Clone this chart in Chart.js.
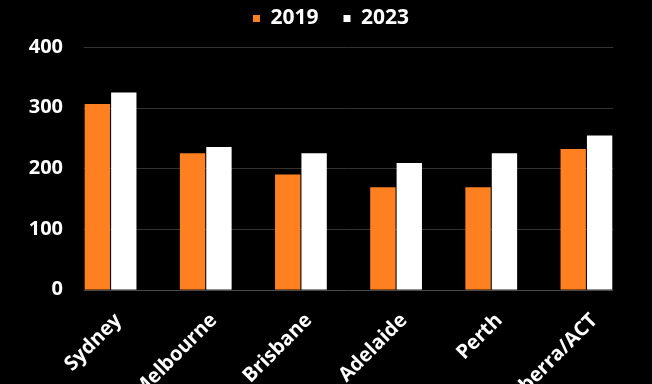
<!DOCTYPE html>
<html lang="en">
  <head>
    <meta charset="UTF-8" />
    <title>2019 vs 2023</title>
    <script src="https://cdn.jsdelivr.net/npm/chart.js"></script>
    <style>
      html,
      body {
        margin: 0;
        padding: 0;
        background: #000;
        overflow: hidden;
      }
      .chart-container {
        width: 652px;
        height: 443px;
      }
    </style>
  </head>
  <body>
    <div class="chart-container">
      <canvas id="barChart"></canvas>
    </div>

    <script>
      const cities = ["Sydney", "Melbourne", "Brisbane", "Adelaide", "Perth", "Canberra/ACT"];
      const values2019 = [306, 225, 190, 169, 169, 232];
      const values2023 = [325, 235, 225, 209, 225, 254];
      const yTicks = [0, 100, 200, 300, 400];

      const orange = "#ff8020";
      const font = { family: "'Open Sans', sans-serif", weight: "bold", size: 20 };

      // grid lines only span the bars, like the original
      const gridSpan = {
        id: "gridSpan",
        beforeDatasetsDraw(chart) {
          const { ctx, scales } = chart;
          const first = chart.getDatasetMeta(0).data[0];
          const lastBars = chart.getDatasetMeta(1).data;
          const last = lastBars[lastBars.length - 1];
          const x0 = first.x - first.width / 2 - 1;
          const x1 = last.x + last.width / 2 + 1;
          ctx.save();
          ctx.lineWidth = 1;
          yTicks.forEach((t) => {
            const py = Math.round(scales.y.getPixelForValue(t)) + 0.5;
            ctx.strokeStyle = t === 0 ? "#4a4a4a" : "#333333";
            ctx.beginPath();
            ctx.moveTo(x0, py);
            ctx.lineTo(x1, py);
            ctx.stroke();
          });
          ctx.restore();
        },
      };

      // a bit more room under the legend
      const legendGap = {
        id: "legendGap",
        beforeInit(chart) {
          const fit = chart.legend.fit;
          chart.legend.fit = function () {
            fit.bind(chart.legend)();
            this.height += 8;
          };
        },
      };

      const config = {
        type: "bar",
        data: {
          labels: cities,
          datasets: [
            {
              label: "2019",
              data: values2019,
              backgroundColor: orange,
              categoryPercentage: 0.555,
              barPercentage: 0.96,
            },
            {
              label: "2023",
              data: values2023,
              backgroundColor: "#ffffff",
              categoryPercentage: 0.555,
              barPercentage: 0.96,
            },
          ],
        },
        options: {
          responsive: true,
          maintainAspectRatio: false,
          animation: false,
          layout: {
            padding: { left: 28, right: 18, top: -17, bottom: 0 },
          },
          plugins: {
            legend: {
              position: "top",
              labels: {
                color: "#ffffff",
                font: { family: "'Open Sans', sans-serif", weight: "bold", size: 21 },
                boxWidth: 7,
                boxHeight: 7,
                padding: 25,
              },
            },
            tooltip: { enabled: false },
          },
          scales: {
            x: {
              grid: { display: false, drawTicks: false },
              border: { display: false },
              ticks: {
                color: "#ffffff",
                font: font,
                minRotation: 45,
                maxRotation: 45,
                padding: 19,
                labelOffset: 8,
              },
            },
            y: {
              min: 0,
              max: 400,
              grid: { display: false, drawTicks: false },
              border: { display: false },
              afterBuildTicks: (scale) => {
                scale.ticks = yTicks.map((v) => ({ value: v }));
              },
              afterFit: (scale) => {
                scale.width = 35;
              },
              ticks: {
                color: "#ffffff",
                font: font,
                padding: 0,
              },
            },
          },
        },
        plugins: [gridSpan, legendGap],
      };

      window.onload = function () {
        const ctx = document.getElementById("barChart").getContext("2d");
        new Chart(ctx, config);
      };
    </script>
  </body>
</html>
